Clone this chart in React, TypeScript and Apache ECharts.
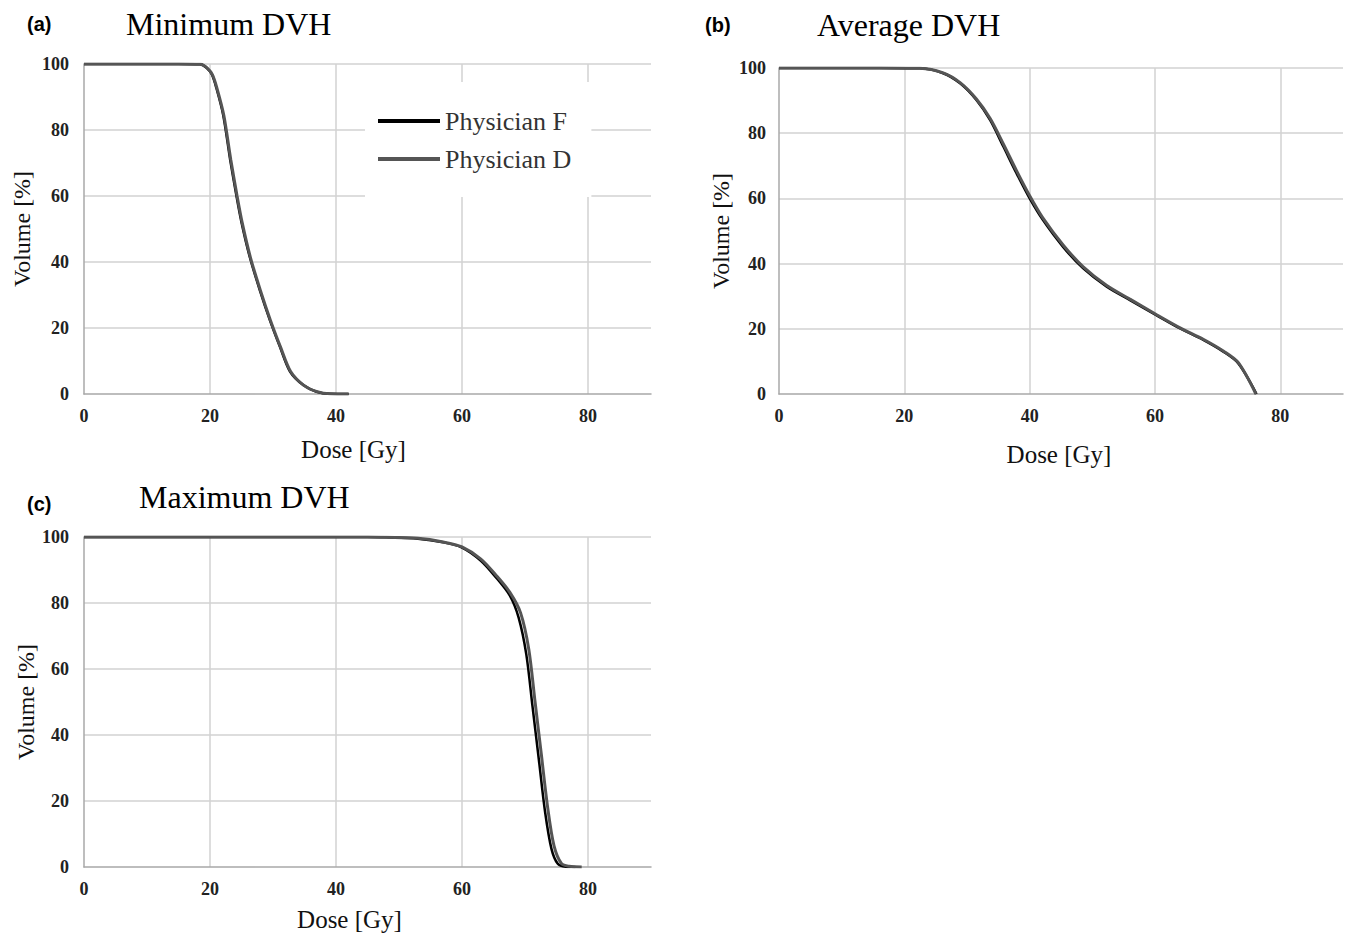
import React, { useEffect, useRef } from "react";
import * as echarts from "echarts";

const seriesNames = ["Physician F", "Physician D"];
const panelTitles = ["Minimum DVH", "Average DVH", "Maximum DVH"];
const panelLetters = ["(a)", "(b)", "(c)"];
const xAxisName = "Dose [Gy]";
const yAxisName = "Volume [%]";
const doseMax = 90;
const doseStep = 20;
const volumeMax = 100;
const volumeStep = 20;

// Panel (a) Minimum DVH: [dose, volume]
const minF: number[][] = [
  [0, 100], [15, 100], [18.4, 99.9], [19.5, 98.8], [20.3, 96.8], [21, 92.8], [22.1, 84.5], [23.2, 71],
  [24.2, 60], [25, 52], [26.3, 41.6], [27.9, 31.5], [29.5, 22.4], [31.1, 14.3],
  [32.7, 6.8], [34.8, 2.7], [36.9, 0.7], [39, 0.05], [42, 0],
];
const minD: number[][] = [
  [0, 100], [15, 100], [18.5, 99.9], [19.6, 98.7], [20.4, 96.7], [21.1, 92.7], [22.2, 84.4], [23.3, 71],
  [24.3, 60], [25.1, 52], [26.4, 41.5], [28, 31.4], [29.6, 22.3], [31.2, 14.2],
  [32.8, 6.8], [34.9, 2.6], [37, 0.7], [39, 0.05], [42, 0],
];

// Panel (b) Average DVH
const avgF: number[][] = [
  [0, 100], [16, 100], [22.5, 99.9], [26.2, 98.4], [28.9, 95.3], [31.5, 90.2], [33.7, 84],
  [35.8, 75.9], [37.9, 67.7], [40, 60], [42.1, 53.4], [45.3, 45.2], [48.5, 38.6],
  [52.3, 32.9], [56, 28.8], [60.2, 24.2], [64, 20.1], [67.7, 16.6], [70.9, 13],
  [73.3, 9.4], [76.2, 0],
];
const avgD: number[][] = [
  [0, 100], [16, 100], [22.5, 99.9], [26.2, 98.5], [28.9, 95.5], [31.5, 90.5], [33.7, 84.5],
  [35.8, 76.7], [37.9, 68.5], [40, 60.8], [42.1, 54], [45.3, 45.8], [48.5, 39.1],
  [52.3, 33.3], [56, 29.1], [60.2, 24.4], [64, 20.3], [67.7, 16.8], [70.9, 13.2],
  [73.3, 9.6], [76.1, 0],
];

// Panel (c) Maximum DVH
const maxF: number[][] = [
  [0, 100], [45, 100], [48, 99.9], [53, 99.5], [57, 98.4], [60, 96.8], [63, 92.8],
  [65.5, 87.5], [67.6, 82.2], [69, 75.5], [70.2, 64.5], [71.2, 48.5], [72.2, 32.5],
  [73.2, 16.5], [74.2, 5.5], [75.2, 1], [76.5, 0.1], [78, 0],
];
const maxD: number[][] = [
  [0, 100], [45, 100], [48, 99.9], [53, 99.6], [57, 98.5], [60, 97], [63, 93.3],
  [65.5, 88.2], [67.6, 83.2], [69.3, 77], [70.6, 66], [71.6, 50], [72.6, 34],
  [73.6, 18], [74.6, 6.5], [75.8, 1], [77, 0.2], [79, 0],
];

const panelData = [
  [minF, minD],
  [avgF, avgD],
  [maxF, maxD],
];

const SERIF = '"Liberation Serif", "Times New Roman", serif';
const SANS = '"Liberation Sans", Arial, sans-serif';

export default function App() {
  const ref = useRef<HTMLDivElement>(null);

  useEffect(() => {
    if (!ref.current) return;
    const chart = echarts.init(ref.current, undefined, { renderer: "svg" });

    const grids = [
      { left: 84, top: 64, width: 567, height: 330 },
      { left: 779, top: 68, width: 564, height: 326 },
      { left: 84, top: 537, width: 567, height: 330 },
    ];
    const xNameGap = [43, 48, 40];
    const xNameShift = [28, 4, 36];
    const yNameGap = [50, 46, 40];
    const yLabelMargin = [15, 13, 15];

    const xAxes = grids.map((_, i) => ({
      type: "value",
      gridIndex: i,
      min: 0,
      max: doseMax,
      interval: doseStep,
      name: xAxisName,
      nameLocation: "middle",
      nameGap: xNameGap[i],
      nameTextStyle: {
        fontFamily: SERIF,
        fontSize: 25,
        color: "#111",
        padding: [0, xNameShift[i], 0, 0],
      },
      axisLine: { show: true, lineStyle: { color: "#a8a8a8", width: 1.5 } },
      axisTick: { show: false },
      axisLabel: {
        fontFamily: SERIF,
        fontWeight: "bold",
        fontSize: 18,
        color: "#222",
        margin: 13,
        showMaxLabel: false,
        formatter: (v: number) => (v === doseMax ? "" : String(v)),
      },
      splitLine: {
        show: true,
        showMinLine: false,
        showMaxLine: false,
        lineStyle: { color: "#d2d2d2", width: 1.5 },
      },
    }));

    const yAxes = grids.map((_, i) => ({
      type: "value",
      gridIndex: i,
      min: 0,
      max: volumeMax,
      interval: volumeStep,
      name: yAxisName,
      nameLocation: "middle",
      nameRotate: 90,
      nameGap: yNameGap[i],
      nameTextStyle: { fontFamily: SERIF, fontSize: 24, color: "#111" },
      axisLine: { show: true, lineStyle: { color: "#a8a8a8", width: 1.5 } },
      axisTick: { show: false },
      axisLabel: {
        fontFamily: SERIF,
        fontWeight: "bold",
        fontSize: 18,
        color: "#222",
        margin: yLabelMargin[i],
      },
      splitLine: {
        show: true,
        showMinLine: false,
        lineStyle: { color: "#d2d2d2", width: 1.5 },
      },
    }));

    const colors = ["#000000", "#555555"];
    const widths = [2.5, 3];
    const series: any[] = [];
    panelData.forEach((pair, i) => {
      pair.forEach((data, j) => {
        series.push({
          type: "line",
          name: seriesNames[j],
          xAxisIndex: i,
          yAxisIndex: i,
          data,
          smooth: 0.3,
          symbol: "none",
          showSymbol: false,
          lineStyle: { color: colors[j], width: widths[j] },
          itemStyle: { color: colors[j] },
          z: 2 + j,
        });
      });
    });

    const titleX = [126, 817, 139];
    const titleY = [24, 25, 497];
    const letterX = [27, 705, 27];
    const letterY = [24, 25, 504];
    const graphics: any[] = [];
    panelTitles.forEach((t, i) => {
      graphics.push({
        type: "text",
        x: titleX[i],
        y: titleY[i],
        style: {
          text: t,
          fontFamily: SERIF,
          fontSize: 32,
          fill: "#000",
          align: "left",
          verticalAlign: "middle",
        },
      });
      graphics.push({
        type: "text",
        x: letterX[i],
        y: letterY[i],
        style: {
          text: panelLetters[i],
          fontFamily: SANS,
          fontWeight: "bold",
          fontSize: 20,
          fill: "#000",
          align: "left",
          verticalAlign: "middle",
        },
      });
    });

    chart.setOption({
      animation: false,
      backgroundColor: "#ffffff",
      grid: grids,
      xAxis: xAxes,
      yAxis: yAxes,
      series,
      legend: {
        orient: "vertical",
        left: 365,
        top: 82,
        backgroundColor: "#ffffff",
        padding: [24, 20, 23, 13],
        itemWidth: 62,
        itemHeight: 4,
        itemGap: 8,
        selectedMode: false,
        textStyle: { fontFamily: SERIF, fontSize: 26, color: "#333", lineHeight: 30 },
        data: [
          { name: seriesNames[0], icon: "rect", itemStyle: { color: "#000" } },
          { name: seriesNames[1], icon: "rect", itemStyle: { color: "#555" } },
        ],
      },
      graphic: graphics,
    });

    return () => {
      chart.dispose();
    };
  }, []);

  return (
    <div
      ref={ref}
      style={{ position: "fixed", left: 0, top: 0, width: 1345, height: 938, background: "#fff" }}
    />
  );
}
